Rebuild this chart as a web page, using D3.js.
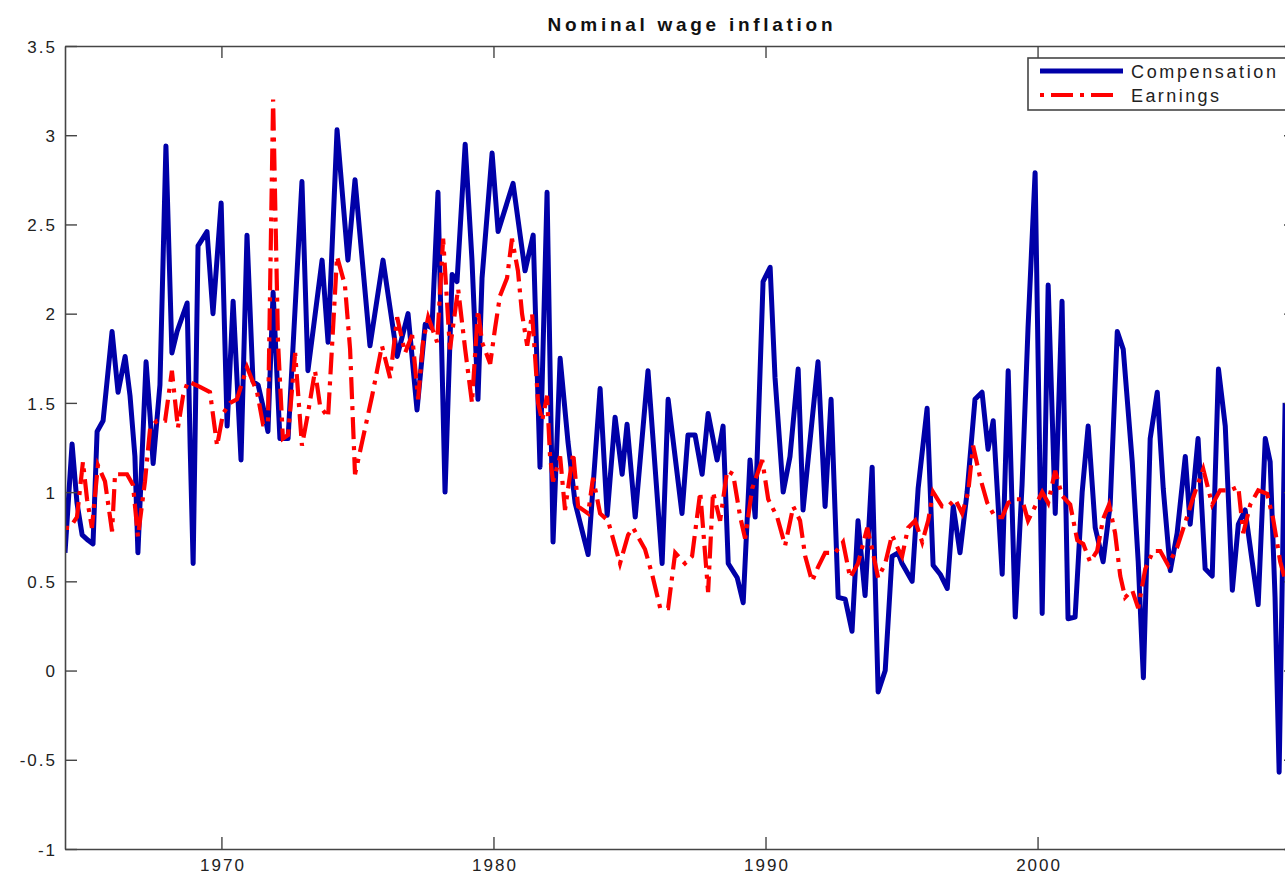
<!DOCTYPE html>
<html>
<head>
<meta charset="utf-8">
<script src="https://cdn.jsdelivr.net/npm/d3@7"></script>
<style>
    body { margin: 0; background: #fff; }
    svg { display: block; font-family: "Liberation Sans", Arial, sans-serif; }
</style>
</head>
<body>
<svg id="chart"></svg>
<script>
// [year, value]
const compensation = [
    [1964.25,0.66],[1964.51,1.27],[1964.69,0.94],[1964.88,0.76],[1965.10,0.73],[1965.28,0.71],[1965.43,1.34],[1965.65,1.40],
    [1965.98,1.90],[1966.20,1.56],[1966.46,1.76],[1966.64,1.54],[1966.82,1.20],[1966.93,0.66],[1967.23,1.73],[1967.38,1.42],
    [1967.49,1.16],[1967.74,1.60],[1967.96,2.94],[1968.18,1.78],[1968.37,1.90],[1968.74,2.06],[1968.85,1.26],[1968.96,0.60],
    [1969.14,2.38],[1969.47,2.46],[1969.69,2.00],[1969.99,2.62],[1970.21,1.37],[1970.43,2.07],[1970.72,1.18],[1970.94,2.44],
    [1971.16,1.62],[1971.35,1.60],[1971.53,1.48],[1971.71,1.34],[1971.90,2.12],[1972.15,1.30],[1972.45,1.30],[1972.96,2.74],
    [1973.18,1.68],[1973.70,2.30],[1973.92,1.84],[1974.25,3.03],[1974.65,2.30],[1974.91,2.75],[1975.46,1.82],[1975.94,2.30],
    [1976.46,1.76],[1976.86,2.00],[1977.19,1.46],[1977.49,1.94],[1977.74,1.92],[1977.96,2.68],[1978.22,1.00],[1978.48,2.22],
    [1978.66,2.18],[1978.96,2.95],[1979.21,2.30],[1979.43,1.52],[1979.58,2.20],[1979.95,2.90],[1980.17,2.46],[1980.72,2.73],
    [1981.16,2.24],[1981.46,2.44],[1981.71,1.14],[1981.97,2.68],[1982.19,0.72],[1982.45,1.75],[1982.74,1.28],[1983.00,0.94],
    [1983.48,0.65],[1983.92,1.58],[1984.18,0.87],[1984.47,1.42],[1984.73,1.10],[1984.91,1.38],[1985.21,0.86],[1985.68,1.68],
    [1986.20,0.60],[1986.42,1.52],[1986.93,0.88],[1987.15,1.32],[1987.41,1.32],[1987.67,1.10],[1987.89,1.44],[1988.22,1.18],
    [1988.44,1.37],[1988.63,0.60],[1988.96,0.52],[1989.18,0.38],[1989.43,1.18],[1989.62,0.86],[1989.91,2.18],[1990.17,2.26],
    [1990.35,1.64],[1990.65,1.00],[1990.90,1.20],[1991.20,1.69],[1991.38,0.90],[1991.71,1.40],[1991.93,1.73],[1992.19,0.92],
    [1992.41,1.52],[1992.67,0.41],[1992.93,0.40],[1993.18,0.22],[1993.40,0.84],[1993.66,0.42],[1993.92,1.14],[1994.14,-0.12],
    [1994.40,0.00],[1994.65,0.64],[1994.87,0.66],[1995.02,0.60],[1995.39,0.50],[1995.61,1.02],[1995.94,1.47],[1996.16,0.59],
    [1996.42,0.54],[1996.68,0.46],[1996.90,0.92],[1997.15,0.66],[1997.41,1.00],[1997.70,1.52],[1997.96,1.56],[1998.18,1.24],
    [1998.37,1.40],[1998.70,0.54],[1998.92,1.68],[1999.18,0.30],[1999.43,1.04],[1999.65,1.92],[1999.91,2.79],[2000.17,0.32],
    [2000.39,2.16],[2000.65,0.88],[2000.90,2.07],[2001.12,0.29],[2001.38,0.30],[2001.64,1.00],[2001.86,1.37],[2002.12,0.80],
    [2002.41,0.61],[2002.67,0.93],[2002.93,1.90],[2003.15,1.80],[2003.48,1.17],[2003.70,0.61],[2003.89,-0.04],[2004.14,1.30],
    [2004.40,1.56],[2004.62,1.02],[2004.88,0.56],[2005.13,0.77],[2005.43,1.20],[2005.61,0.82],[2005.90,1.30],[2006.16,0.57],
    [2006.42,0.53],[2006.65,1.69],[2006.90,1.37],[2007.16,0.45],[2007.38,0.82],[2007.63,0.90],[2007.89,0.61],[2008.11,0.37],
    [2008.37,1.30],[2008.55,1.17],[2008.73,0.41],[2008.88,-0.57],[2009.10,1.50]
];

const earnings = [
    [1964.25,0.80],[1964.43,0.80],[1964.69,0.86],[1964.91,1.17],[1965.06,0.96],[1965.24,0.80],[1965.46,1.15],[1965.72,1.06],
    [1965.98,0.78],[1966.09,1.10],[1966.53,1.10],[1966.75,1.04],[1966.93,0.75],[1967.19,1.06],[1967.38,1.36],[1967.63,1.40],
    [1967.93,1.40],[1968.18,1.68],[1968.40,1.36],[1968.59,1.54],[1968.77,1.62],[1969.21,1.59],[1969.58,1.56],[1969.84,1.26],
    [1970.06,1.44],[1970.32,1.50],[1970.57,1.52],[1970.94,1.70],[1971.31,1.56],[1971.53,1.38],[1971.71,1.38],[1971.90,3.20],
    [1972.08,1.84],[1972.26,1.30],[1972.45,1.32],[1972.71,1.78],[1972.96,1.26],[1973.18,1.44],[1973.44,1.68],[1973.63,1.48],
    [1973.92,1.42],[1974.25,2.32],[1974.54,2.16],[1974.73,1.80],[1974.91,1.10],[1975.17,1.28],[1975.54,1.54],[1975.90,1.82],
    [1976.20,1.64],[1976.46,1.98],[1976.75,1.78],[1977.01,1.88],[1977.23,1.52],[1977.41,1.84],[1977.60,1.98],[1977.93,1.84],
    [1978.15,2.42],[1978.40,1.80],[1978.70,2.14],[1978.96,1.80],[1979.21,1.50],[1979.43,2.02],[1979.58,1.84],[1979.88,1.72],
    [1980.06,1.92],[1980.24,2.10],[1980.50,2.20],[1980.68,2.42],[1980.90,2.24],[1981.05,2.00],[1981.24,1.82],[1981.42,2.00],
    [1981.53,1.76],[1981.64,1.50],[1981.79,1.40],[1981.97,1.54],[1982.08,1.20],[1982.19,1.06],[1982.45,1.20],[1982.63,0.90],
    [1982.93,1.22],[1983.11,0.92],[1983.48,0.88],[1983.66,1.08],[1983.92,0.88],[1984.21,0.84],[1984.65,0.60],[1984.95,0.76],
    [1985.13,0.80],[1985.57,0.68],[1985.83,0.54],[1986.13,0.35],[1986.42,0.35],[1986.68,0.66],[1987.04,0.60],[1987.30,0.64],
    [1987.60,1.00],[1987.89,0.44],[1988.07,1.00],[1988.33,0.84],[1988.59,1.12],[1988.81,1.10],[1989.07,0.86],[1989.25,0.74],
    [1989.51,1.02],[1989.88,1.18],[1990.10,0.96],[1990.43,0.86],[1990.72,0.70],[1991.02,0.92],[1991.27,0.84],[1991.46,0.64],
    [1991.71,0.50],[1991.93,0.58],[1992.19,0.66],[1992.56,0.66],[1992.85,0.72],[1993.11,0.52],[1993.40,0.60],[1993.74,0.80],
    [1993.92,0.68],[1994.14,0.52],[1994.40,0.60],[1994.65,0.76],[1994.88,0.68],[1995.02,0.64],[1995.24,0.80],[1995.50,0.84],
    [1995.76,0.72],[1995.98,0.84],[1996.16,1.00],[1996.49,0.92],[1996.71,0.92],[1996.97,0.96],[1997.23,0.88],[1997.45,1.00],
    [1997.63,1.26],[1997.89,1.08],[1998.15,0.94],[1998.44,0.86],[1998.70,0.86],[1998.92,0.94],[1999.18,0.96],[1999.43,0.96],
    [1999.65,0.84],[1999.91,0.92],[2000.17,1.00],[2000.39,0.94],[2000.65,1.12],[2000.90,0.98],[2001.20,0.93],[2001.46,0.73],
    [2001.68,0.71],[2001.93,0.61],[2002.19,0.67],[2002.41,0.85],[2002.63,0.93],[2002.85,0.77],[2003.04,0.53],[2003.22,0.41],
    [2003.48,0.45],[2003.70,0.35],[2003.96,0.57],[2004.25,0.67],[2004.51,0.67],[2004.80,0.59],[2005.13,0.69],[2005.43,0.83],
    [2005.72,0.97],[2006.09,1.13],[2006.42,0.93],[2006.71,1.01],[2007.08,1.01],[2007.38,1.03],[2007.56,0.77],[2007.82,0.93],
    [2008.11,1.01],[2008.44,0.99],[2008.66,0.85],[2008.92,0.61],[2009.10,0.51]
];

const seriesNames = ["Compensation", "Earnings"];
const yTicks = [-1, -0.5, 0, 0.5, 1, 1.5, 2, 2.5, 3, 3.5];
const xTicks = [1970, 1980, 1990, 2000];
const xDomain = [1964.25, 2009.5];
const yDomain = [-1, 3.5];

class WageChart {
    constructor(_config) {
        this.config = {
            parentElement: _config.parentElement,
            containerWidth: 1285,
            containerHeight: 877,
            margin: { top: 46, right: -11, bottom: 28, left: 65 }
        };
        this.initVis();
    }

    initVis() {
        let vis = this;

        vis.width = vis.config.containerWidth - vis.config.margin.left - vis.config.margin.right;
        vis.height = vis.config.containerHeight - vis.config.margin.top - vis.config.margin.bottom;

        vis.svg = d3.select(vis.config.parentElement)
            .attr("width", vis.config.containerWidth)
            .attr("height", vis.config.containerHeight);

        vis.chart = vis.svg.append("g")
            .attr("transform", `translate(${vis.config.margin.left},${vis.config.margin.top})`);

        vis.xScale = d3.scaleLinear().domain(xDomain).range([0, vis.width]);
        vis.yScale = d3.scaleLinear().domain(yDomain).range([vis.height, 0]);

        vis.svg.append("defs").append("clipPath")
            .attr("id", "plot-clip")
            .append("rect")
            .attr("width", vis.width)
            .attr("height", vis.height);

        vis.renderVis();
    }

    renderVis() {
        let vis = this;
        const axisColor = "#454545";
        const textColor = "#222";
        const tickLen = 12;

        // Lines first, axes box on top
        const line = d3.line()
            .x(d => vis.xScale(d[0]))
            .y(d => vis.yScale(d[1]));

        const plot = vis.chart.append("g").attr("clip-path", "url(#plot-clip)");

        plot.append("path")
            .datum(compensation)
            .attr("fill", "none")
            .attr("stroke", "#0000a8")
            .attr("stroke-width", 5)
            .attr("stroke-linejoin", "round")
            .attr("d", line);

        plot.append("path")
            .datum(earnings)
            .attr("fill", "none")
            .attr("stroke", "#ff0000")
            .attr("stroke-width", 4.2)
            .attr("stroke-dasharray", "4,7,22,7")
            .attr("d", line);

        // Axes (MATLAB style: ticks inward on all four sides)
        const fmt = d => String(d);

        const left = vis.chart.append("g")
            .call(d3.axisLeft(vis.yScale).tickValues(yTicks).tickFormat(fmt).tickSizeInner(-tickLen).tickSizeOuter(0).tickPadding(10));
        const right = vis.chart.append("g")
            .attr("transform", `translate(${vis.width},0)`)
            .call(d3.axisRight(vis.yScale).tickValues(yTicks).tickFormat("").tickSizeInner(-tickLen).tickSizeOuter(0));
        const bottom = vis.chart.append("g")
            .attr("transform", `translate(0,${vis.height})`)
            .call(d3.axisBottom(vis.xScale).tickValues(xTicks).tickFormat(fmt).tickSizeInner(-tickLen).tickSizeOuter(0).tickPadding(10));
        const top = vis.chart.append("g")
            .call(d3.axisTop(vis.xScale).tickValues(xTicks).tickFormat("").tickSizeInner(-tickLen).tickSizeOuter(0));

        [left, right, bottom, top].forEach(g => {
            g.select(".domain").attr("stroke", axisColor).attr("stroke-width", 1.6);
            g.selectAll(".tick line").attr("stroke", axisColor).attr("stroke-width", 1.4);
            g.selectAll(".tick text")
                .attr("fill", textColor)
                .style("font-size", "17px")
                .style("letter-spacing", "2px");
        });
        left.selectAll(".tick text").attr("dy", "0.36em").attr("x", -8);
        bottom.selectAll(".tick text").attr("dy", "0.7em").attr("dx", "1px");

        // Title
        vis.svg.append("text")
            .attr("x", 690)
            .attr("y", 31)
            .attr("text-anchor", "middle")
            .attr("fill", "#111")
            .attr("textLength", 285)
            .attr("lengthAdjust", "spacing")
            .style("font-size", "19px")
            .style("font-weight", "bold")
            .text("Nominal wage inflation");

        vis.createLegend();
    }

    createLegend() {
        let vis = this;
        const lx = 1028, ly = 58, lw = 280, lh = 52;

        const legend = vis.svg.append("g");
        legend.append("rect")
            .attr("x", lx)
            .attr("y", ly)
            .attr("width", lw)
            .attr("height", lh)
            .attr("fill", "#fff")
            .attr("stroke", "#454545")
            .attr("stroke-width", 1.6);

        const items = [
            { name: seriesNames[0], color: "#0000a8", width: 5, dash: null, y: 71, len: 83, textLen: 145 },
            { name: seriesNames[1], color: "#ff0000", width: 4.2, dash: "4,7,22,7", y: 95, len: 73, textLen: 88 }
        ];

        items.forEach(d => {
            legend.append("line")
                .attr("x1", lx + 12)
                .attr("x2", lx + 12 + d.len)
                .attr("y1", d.y)
                .attr("y2", d.y)
                .attr("stroke", d.color)
                .attr("stroke-width", d.width)
                .attr("stroke-dasharray", d.dash);

            legend.append("text")
                .attr("x", lx + 103)
                .attr("y", d.y + 7)
                .attr("fill", "#222")
                .attr("textLength", d.textLen)
                .attr("lengthAdjust", "spacing")
                .style("font-size", "18px")
                .text(d.name);
        });
    }
}

new WageChart({ parentElement: "#chart" });
</script>
</body>
</html>
